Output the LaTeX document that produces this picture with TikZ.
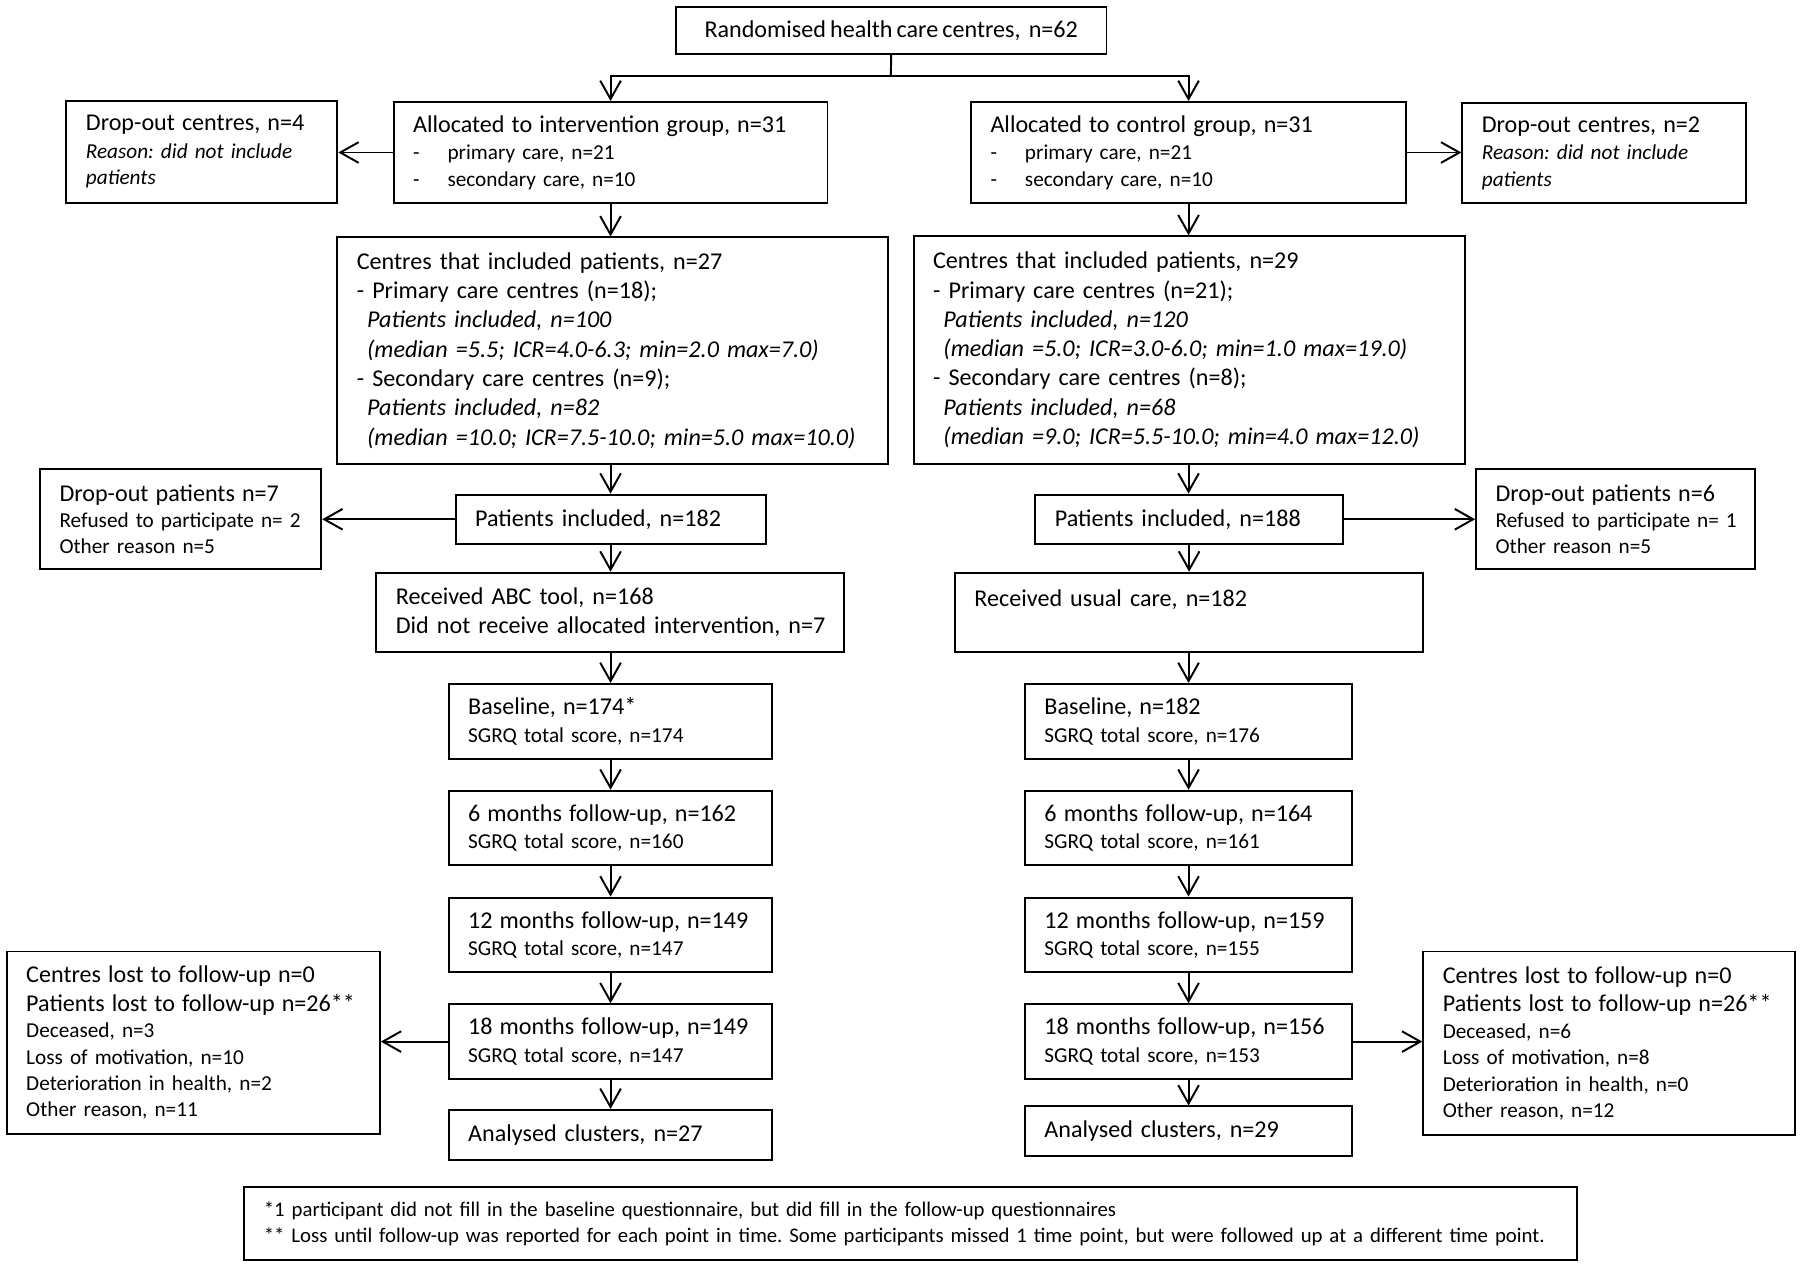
\documentclass[tikz,border=0pt]{standalone}
\usepackage{fontspec}
\setmainfont{Carlito}[WordSpace=0.75]
\usetikzlibrary{arrows.meta}
\frenchspacing
\newcommand\LgF{\fontsize{21}{23}\selectfont}
\newcommand\DashItem{\makebox[30pt][l]{-}}
\tikzset{
  box/.style={draw, line width=1.7pt, anchor=north west, inner xsep=17pt, inner ysep=0pt,
    align=left, font=\fontsize{18.5}{23}\selectfont\frenchspacing},
  bigbox/.style={box, font=\fontsize{21}{25.5}\selectfont\frenchspacing},
  arr/.style={line width=1.7pt, -{Straight Barb[length=16pt,width=18pt]}},
  ln/.style={line width=1.7pt},
}
\begin{document}
\begin{tikzpicture}[x=1pt,y=-1pt]
\useasboundingbox (0,0) rectangle (1568,1102);
\fill[white] (0,0) rectangle (1568,1102);

% top
\node[draw, line width=1.7pt, anchor=north west, minimum width=375pt, minimum height=41pt, inner sep=0pt,
  font=\fontsize{21}{23}\selectfont\frenchspacing] (top) at (588,5) {Randomised health care centres,\ \ n=62};

% allocation
\node[box, minimum width=378pt, minimum height=88pt, text width=344pt] (allocL) at (342,88)
  {{\LgF Allocated to intervention group, n=31}\\[1pt]\DashItem primary care, n=21\\\DashItem secondary care, n=10};
\node[box, minimum width=379pt, minimum height=88pt, text width=345pt] (allocR) at (845,88)
  {{\LgF Allocated to control group, n=31}\\[1pt]\DashItem primary care, n=21\\\DashItem secondary care, n=10};
\node[box, minimum width=236pt, minimum height=89pt, text width=202pt] (dropL) at (57,87)
  {{\LgF Drop-out centres, n=4}\\[1pt]\textit{Reason: did not include}\\\textit{patients}};
\node[box, minimum width=247pt, minimum height=87pt, text width=213pt] (dropR) at (1273,89)
  {{\LgF Drop-out centres, n=2}\\[1pt]\textit{Reason: did not include}\\\textit{patients}};

% centres
\node[bigbox, minimum width=480pt, minimum height=197pt, text width=446pt] (centL) at (293,206)
  {Centres that included patients, n=27\\
   - Primary care centres (n=18);\\
   \hspace*{9pt}\textit{Patients included, n=100}\\
   \hspace*{9pt}\textit{(median =5.5; ICR=4.0-6.3; min=2.0 max=7.0)}\\
   - Secondary care centres (n=9);\\
   \hspace*{9pt}\textit{Patients included, n=82}\\
   \hspace*{9pt}\textit{(median =10.0; ICR=7.5-10.0; min=5.0 max=10.0)}};
\node[bigbox, minimum width=480pt, minimum height=198pt, text width=446pt] (centR) at (795,205)
  {Centres that included patients, n=29\\
   - Primary care centres (n=21);\\
   \hspace*{9pt}\textit{Patients included, n=120}\\
   \hspace*{9pt}\textit{(median =5.0; ICR=3.0-6.0; min=1.0 max=19.0)}\\
   - Secondary care centres (n=8);\\
   \hspace*{9pt}\textit{Patients included, n=68}\\
   \hspace*{9pt}\textit{(median =9.0; ICR=5.5-10.0; min=4.0 max=12.0)}};

% patients included
\node[bigbox, minimum width=270pt, minimum height=43pt, text width=236pt] (patL) at (396,430)
  {Patients included, n=182};
\node[bigbox, minimum width=268pt, minimum height=43pt, text width=234pt] (patR) at (901,430)
  {Patients included, n=188};
\node[box, minimum width=245pt, minimum height=87pt, text width=211pt] (dpL) at (34,408)
  {{\LgF Drop-out patients n=7}\\\mbox{Refused to participate n= 2}\\Other reason n=5};
\node[box, minimum width=243pt, minimum height=87pt, text width=209pt] (dpR) at (1285,408)
  {{\LgF Drop-out patients n=6}\\\mbox{Refused to participate n= 1}\\Other reason n=5};

% received
\node[bigbox, minimum width=407pt, minimum height=69pt, text width=373pt] (recL) at (327,498)
  {Received ABC tool, n=168\\\mbox{Did not receive allocated intervention, n=7}};
\node[bigbox, minimum width=408pt, minimum height=69pt, text width=374pt] (recR) at (831,498)
  {Received usual care, n=182\\\mbox{}};

% follow-up chain left
\node[box, minimum width=282pt, minimum height=65pt, text width=248pt] (baseL) at (390,595)
  {{\LgF Baseline, n=174*}\\[1pt]SGRQ total score, n=174};
\node[box, minimum width=282pt, minimum height=65pt, text width=248pt] (m6L) at (390,688)
  {{\LgF 6 months follow-up, n=162}\\[1pt]SGRQ total score, n=160};
\node[box, minimum width=282pt, minimum height=65pt, text width=248pt] (m12L) at (390,781)
  {{\LgF 12 months follow-up, n=149}\\[1pt]SGRQ total score, n=147};
\node[box, minimum width=282pt, minimum height=65pt, text width=248pt] (m18L) at (390,874)
  {{\LgF 18 months follow-up, n=149}\\[1pt]SGRQ total score, n=147};
\node[bigbox, minimum width=282pt, minimum height=44pt, text width=248pt] (anL) at (390,966)
  {Analysed clusters, n=27};

% follow-up chain right
\node[box, minimum width=285pt, minimum height=65pt, text width=251pt] (baseR) at (892,595)
  {{\LgF Baseline, n=182}\\[1pt]SGRQ total score, n=176};
\node[box, minimum width=285pt, minimum height=65pt, text width=251pt] (m6R) at (892,688)
  {{\LgF 6 months follow-up, n=164}\\[1pt]SGRQ total score, n=161};
\node[box, minimum width=285pt, minimum height=65pt, text width=251pt] (m12R) at (892,781)
  {{\LgF 12 months follow-up, n=159}\\[1pt]SGRQ total score, n=155};
\node[box, minimum width=285pt, minimum height=65pt, text width=251pt] (m18R) at (892,874)
  {{\LgF 18 months follow-up, n=156}\\[1pt]SGRQ total score, n=153};
\node[bigbox, minimum width=285pt, minimum height=43pt, text width=251pt] (anR) at (892,963)
  {Analysed clusters, n=29};

% lost to follow-up
\node[box, minimum width=325pt, minimum height=159pt, text width=291pt] (lostL) at (5,828)
  {{\LgF Centres lost to follow-up n=0}\\[2pt]{\LgF Patients lost to follow-up n=26**}\\
   Deceased, n=3\\Loss of motivation, n=10\\Deterioration in health, n=2\\Other reason, n=11};
\node[box, minimum width=324pt, minimum height=160pt, text width=290pt] (lostR) at (1239,828)
  {{\LgF Centres lost to follow-up n=0}\\[2pt]{\LgF Patients lost to follow-up n=26**}\\
   Deceased, n=6\\Loss of motivation, n=8\\Deterioration in health, n=0\\Other reason, n=12};

% note
\node[box, minimum width=1161pt, minimum height=64pt, text width=1127pt,
  font=\fontsize{18.1}{23}\selectfont\frenchspacing] (note) at (212,1033)
  {\mbox{*1 participant did not fill in the baseline questionnaire, but did fill in the follow-up questionnaires}\\
   \mbox{** Loss until follow-up was reported for each point in time. Some participants missed 1 time point, but were followed up at a different time point.}};

% connectors
\coordinate (split) at (776,66);
\draw[ln] (top.south) -- (split);
\draw[arr] (split) -| (allocL.north);
\draw[arr] (split) -| (allocR.north);
\draw[arr] (allocL.west) -- (allocL.west -| dropL.east);
\draw[arr] (allocR.east) -- (allocR.east -| dropR.west);

\draw[arr] (allocL.south) -- (allocL.south |- centL.north);
\draw[arr] (allocR.south) -- (allocR.south |- centR.north);
\draw[arr] (centL.south -| allocL.south) -- (allocL.south |- patL.north);
\draw[arr] (centR.south -| allocR.south) -- (allocR.south |- patR.north);
\draw[arr] (patL.west) -- (patL.west -| dpL.east);
\draw[arr] (patR.east) -- (patR.east -| dpR.west);
\draw[arr] (patL.south) -- (patL.south |- recL.north);
\draw[arr] (patR.south) -- (patR.south |- recR.north);
\draw[arr] (recL.south -| baseL.north) -- (baseL.north);
\draw[arr] (recR.south -| baseR.north) -- (baseR.north);

\draw[arr] (baseL.south) -- (m6L.north);
\draw[arr] (m6L.south) -- (m12L.north);
\draw[arr] (m12L.south) -- (m18L.north);
\draw[arr] (m18L.south) -- (anL.north);
\draw[arr] (baseR.south) -- (m6R.north);
\draw[arr] (m6R.south) -- (m12R.north);
\draw[arr] (m12R.south) -- (m18R.north);
\draw[arr] (m18R.south) -- (anR.north);

\draw[arr] (m18L.west) -- (m18L.west -| lostL.east);
\draw[arr] (m18R.east) -- (m18R.east -| lostR.west);
\end{tikzpicture}
\end{document}
